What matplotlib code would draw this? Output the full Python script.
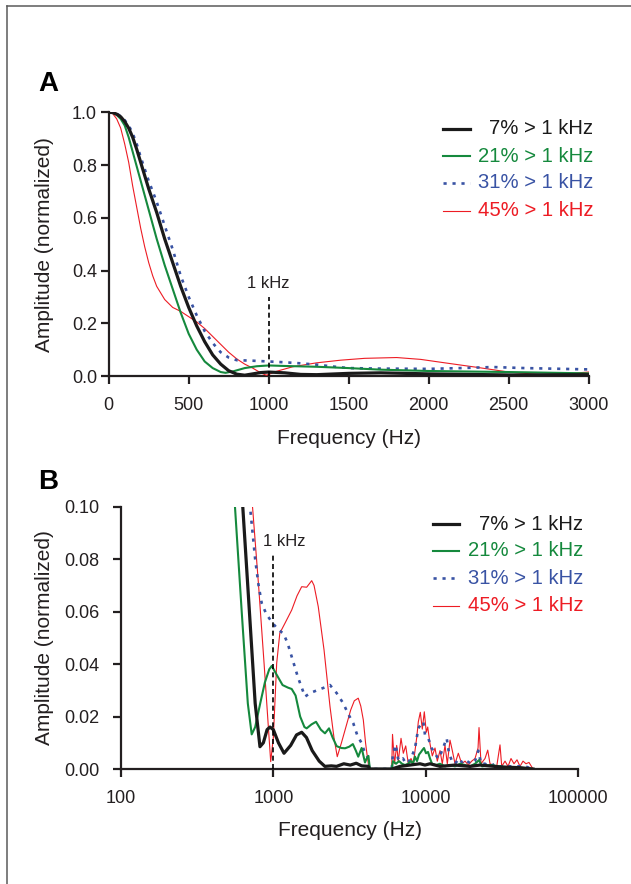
import matplotlib
matplotlib.use("Agg")
import matplotlib.pyplot as plt
from matplotlib.lines import Line2D

plt.rcParams['font.family'] = ['Liberation Sans', 'DejaVu Sans']

# ---- Panel A: linear frequency axis ----
a_blk_f = [0, 25, 50, 75, 100, 125, 150, 175, 200, 250, 300, 350, 400, 450, 500, 550, 600, 650, 700,
           750, 800, 850, 900, 950, 1000, 1100, 1200, 1300, 1500, 1700, 2000, 2500, 3000]
a_blk_y = [1.0, 0.999, 0.993, 0.983, 0.965, 0.94, 0.905, 0.86, 0.81, 0.71, 0.62, 0.52, 0.43, 0.34, 0.26,
           0.19, 0.13, 0.08, 0.045, 0.02, 0.007, 0.003, 0.008, 0.013, 0.015, 0.012, 0.006, 0.005, 0.01,
           0.012, 0.008, 0.004, 0.005]

a_grn_f = [0, 25, 50, 75, 100, 125, 150, 175, 200, 250, 300, 350, 400, 450, 500, 550, 600, 650, 700,
           730, 780, 850, 925, 1000, 1100, 1300, 1500, 1700, 2000, 2500, 3000]
a_grn_y = [1.0, 0.998, 0.99, 0.975, 0.95, 0.905, 0.85, 0.795, 0.74, 0.63, 0.52, 0.42, 0.33, 0.24, 0.16,
           0.1, 0.055, 0.03, 0.015, 0.012, 0.018, 0.03, 0.037, 0.04, 0.038, 0.035, 0.03, 0.024, 0.019,
           0.015, 0.01]

a_blu_f = [0, 25, 50, 75, 100, 125, 150, 175, 200, 250, 300, 350, 400, 450, 500, 550, 600, 650, 700,
           750, 800, 900, 1000, 1100, 1200, 1300, 1400, 1500, 1700, 2000, 2200, 2400, 2600, 3000]
a_blu_y = [1.0, 0.999, 0.995, 0.985, 0.97, 0.95, 0.92, 0.88, 0.83, 0.74, 0.66, 0.57, 0.48, 0.38, 0.3,
           0.23, 0.17, 0.125, 0.09, 0.07, 0.06, 0.058, 0.055, 0.052, 0.048, 0.043, 0.036, 0.03, 0.028,
           0.027, 0.03, 0.034, 0.03, 0.025]

a_red_f = [0, 25, 50, 75, 100, 125, 150, 175, 200, 225, 250, 275, 300, 350, 400, 450, 500, 550, 600,
           650, 700, 750, 800, 850, 900, 950, 985, 1000, 1050, 1150, 1300, 1450, 1600, 1800, 1950, 2100,
           2300, 2500, 2700, 2850, 3000]
a_red_y = [1.0, 0.995, 0.975, 0.94, 0.88, 0.81, 0.72, 0.64, 0.56, 0.49, 0.43, 0.38, 0.34, 0.29, 0.26,
           0.245, 0.225, 0.205, 0.18, 0.15, 0.12, 0.09, 0.065, 0.045, 0.03, 0.012, 0.003, 0.006, 0.018,
           0.035, 0.05, 0.06, 0.067, 0.07, 0.063, 0.05, 0.033, 0.015, 0.005, 0.008, 0.015]

# ---- Panel B: log frequency axis (values above 0.1 are clipped) ----
b_blk_f = [475, 630, 700, 760, 817, 860, 910, 951, 1000, 1080, 1175, 1300, 1420, 1535, 1650, 1800,
           2000, 2180, 2400, 2600, 2900, 3200, 3500, 3800, 4200, 4300, 5985,
           6785, 7891, 9180, 9899, 10678, 12420, 15583, 19540, 22730, 30760, 41620, 50660]
b_blk_y = [0.2, 0.1, 0.058, 0.025, 0.0085, 0.01, 0.015, 0.016, 0.015, 0.01, 0.006, 0.009, 0.013, 0.014,
           0.012, 0.007, 0.003, 0.001, 0.0012, 0.001, 0.002, 0.0015, 0.0022, 0.0012, 0.001, 0.0, 0.0,
           0.001, 0.0015, 0.002, 0.0015, 0.002, 0.001, 0.0015, 0.001, 0.0015, 0.0008, 0.0005, 0.0]

b_grn_f = [420, 560, 620, 680, 721, 760, 820, 880, 940, 976, 1050, 1150, 1250, 1320, 1400, 1500, 1600,
           1655, 1780, 1906, 2050, 2183, 2320, 2450, 2605, 2800, 2958, 3150, 3327, 3480, 3609, 3800,
           3996, 4100, 4210, 4300, 5985,
           6103, 6388, 6683, 6994, 7317, 7656, 8012, 8258, 8512, 8774, 9043, 9320, 9504, 9752, 10050,
           10360, 10678, 11010, 11690, 12420, 13397, 14448, 15583, 16810, 18130, 19540, 21090, 22400,
           23440, 26450, 30760, 35790, 41620, 50660]
b_grn_y = [0.2, 0.1, 0.06, 0.025, 0.0132, 0.016, 0.025, 0.033, 0.038, 0.0393, 0.036, 0.032, 0.031,
           0.0305, 0.028, 0.02, 0.016, 0.0155, 0.017, 0.018, 0.015, 0.0136, 0.0155, 0.012, 0.0087, 0.008,
           0.0079, 0.0085, 0.0095, 0.007, 0.0047, 0.008, 0.0025, 0.004, 0.005, 0.0, 0.0,
           0.003, 0.002, 0.003, 0.002, 0.0015, 0.002, 0.003, 0.002, 0.0047, 0.003, 0.0055, 0.0065, 0.0072,
           0.008, 0.006, 0.0065, 0.004, 0.002, 0.0015, 0.002, 0.001, 0.0015, 0.001, 0.002, 0.0015, 0.001,
           0.002, 0.0034, 0.001, 0.0015, 0.001, 0.0005, 0.0005, 0.0]

b_blu_f = [440, 703, 760, 800, 839, 900, 991, 1080, 1164, 1240, 1320, 1450, 1614, 1750, 1936, 2150,
           2355, 2600, 2880, 3100, 3350, 3550, 3800, 4000, 4140, 4250, 4300, 5985,
           6103, 6357, 6583, 6785, 7100, 7428, 7774, 8135, 8512, 8948, 9419, 9650, 9899, 10406, 10955,
           11516, 12050, 12610, 13194, 13743, 14230, 14890, 15583, 16560, 17590, 18680, 19840, 21090,
           22170, 23090, 24520, 26450, 28530, 30760, 33190, 38600, 44890, 50660]
b_blu_y = [0.2, 0.1, 0.08, 0.07, 0.0632, 0.059, 0.0556, 0.053, 0.0517, 0.048, 0.0428, 0.035, 0.0276,
           0.029, 0.03, 0.031, 0.032, 0.029, 0.025, 0.021, 0.0174, 0.013, 0.0098, 0.006, 0.0047, 0.001,
           0.0, 0.0,
           0.006, 0.0092, 0.004, 0.003, 0.004, 0.002, 0.003, 0.005, 0.008, 0.0155, 0.0175, 0.018, 0.013,
           0.0117, 0.0079, 0.006, 0.004, 0.006, 0.009, 0.0117, 0.006, 0.003, 0.002, 0.004, 0.002, 0.003,
           0.002, 0.003, 0.007, 0.002, 0.002, 0.001, 0.002, 0.001, 0.001, 0.001, 0.001, 0.0]

b_red_f = [560, 730, 800, 870, 930, 961, 1000, 1052, 1103, 1193, 1320, 1430, 1535, 1655, 1786, 1850,
           1972, 2152, 2355, 2500, 2628, 2800, 2958, 3220, 3400, 3609, 3750, 3897, 4030, 4140, 4250,
           5985,
           6058, 6244, 6454, 6612, 6890, 7134, 7396, 7691, 8012, 8296, 8735, 8948, 9222, 9504, 9797,
           10097, 10313, 10678, 11056, 11516, 11924, 12420, 12860, 13397, 13871, 14448, 14960, 15583,
           16380, 17240, 18130, 19060, 20060, 21090, 22070, 22400, 23090, 24520, 25550, 26450, 27800,
           29270, 30760, 31570, 33190, 34730, 36330, 38010, 39780, 41620, 43550, 45570, 47680, 50660]
b_red_y = [0.2, 0.1, 0.07, 0.04, 0.015, 0.0028, 0.012, 0.0403, 0.0518, 0.0556, 0.0606, 0.066, 0.0695,
           0.0693, 0.0718, 0.07, 0.0619, 0.0454, 0.0238, 0.012, 0.0047, 0.01, 0.0149, 0.0225, 0.026,
           0.027, 0.024, 0.0187, 0.01, 0.0047, 0.0, 0.0,
           0.0132, 0.002, 0.009, 0.003, 0.0117, 0.006, 0.0088, 0.002, 0.004, 0.002, 0.012, 0.018, 0.0216,
           0.0152, 0.0218, 0.014, 0.016, 0.0096, 0.005, 0.008, 0.003, 0.007, 0.002, 0.009, 0.002, 0.011,
           0.007, 0.002, 0.006, 0.002, 0.003, 0.0015, 0.003, 0.004, 0.008, 0.0158, 0.002, 0.004, 0.0072,
           0.002, 0.0015, 0.001, 0.0092, 0.001, 0.003, 0.001, 0.004, 0.002, 0.0035, 0.001, 0.003, 0.002,
           0.0025, 0.0]

labels = ["7% > 1 kHz", "21% > 1 kHz", "31% > 1 kHz", "45% > 1 kHz"]
colors = ["#1a1a1a", "#15893d", "#3953a4", "#ed1c24"]
widths = [2.3, 1.5, 1.9, 0.8]
styles = ["-", "-", (0, (1.2, 2.2)), "-"]

a_series = [(a_blk_f, a_blk_y), (a_grn_f, a_grn_y), (a_blu_f, a_blu_y), (a_red_f, a_red_y)]
b_series = [(b_blk_f, b_blk_y), (b_grn_f, b_grn_y), (b_blu_f, b_blu_y), (b_red_f, b_red_y)]

W, H = 631, 884
fig = plt.figure(figsize=(W / 100, H / 100), dpi=100)
axA = fig.add_axes([108.7 / W, 1 - 376 / H, 480 / W, 263.7 / H])
axB = fig.add_axes([121 / W, 1 - 769 / H, 457 / W, 262.3 / H])

spine_col = "#231f20"


def style_axes(ax, ypad):
    for s in ["top", "right"]:
        ax.spines[s].set_visible(False)
    for s in ["left", "bottom"]:
        ax.spines[s].set_linewidth(1.6)
        ax.spines[s].set_color(spine_col)
    ax.tick_params(which="major", direction="out", length=5.5, width=1.6, color=spine_col,
                   labelsize=13, labelcolor=spine_col)
    ax.tick_params(axis="x", pad=9.5)
    ax.tick_params(axis="y", pad=ypad)
    ax.tick_params(which="minor", length=0)


def draw_key(ax, x0, x1, xt, ys):
    # legend drawn by hand so the labels can be right aligned
    for i in range(4):
        ax.plot([x0, x1], [ys[i], ys[i]], transform=ax.transAxes, color=colors[i], lw=widths[i],
                linestyle=styles[i], clip_on=False)
        ax.text(xt, ys[i], labels[i], transform=ax.transAxes, ha="right", va="center",
                fontsize=14.6, color=colors[i])


# panel A
for i in [3, 2, 1, 0]:
    f, y = a_series[i]
    axA.plot(f, y, color=colors[i], lw=widths[i], linestyle=styles[i], zorder=3)
axA.set_xlim(0, 3000)
axA.set_ylim(0, 1.0)
axA.set_xticks([0, 500, 1000, 1500, 2000, 2500, 3000])
axA.set_yticks([0.0, 0.2, 0.4, 0.6, 0.8, 1.0])
axA.set_yticklabels(["0.0", "0.2", "0.4", "0.6", "0.8", "1.0"])
style_axes(axA, 3)
axA.plot([1000, 1000], [0, 0.30], color="black", lw=1.2, linestyle=(0, (3, 2)), zorder=4)
axA.text(1000, 0.352, "1 kHz", ha="center", va="center", fontsize=12, color=spine_col)
axA.set_xlabel("Frequency (Hz)", fontsize=15, color=spine_col)
axA.set_ylabel("Amplitude (normalized)", fontsize=15, color=spine_col)
axA.xaxis.set_label_coords(0.5, -0.2)
axA.yaxis.set_label_coords(-0.114, 0.5)
draw_key(axA, 0.696, 0.753, 1.009, [0.937, 0.834, 0.732, 0.626])

# panel B
for i in [3, 2, 1, 0]:
    f, y = b_series[i]
    axB.plot(f, y, color=colors[i], lw=widths[i], linestyle=styles[i], zorder=3)
axB.set_xscale("log")
axB.set_xlim(100, 100000)
axB.set_ylim(0, 0.1)
axB.set_xticks([100, 1000, 10000, 100000])
axB.set_xticklabels(["100", "1000", "10000", "100000"])
axB.set_yticks([0.0, 0.02, 0.04, 0.06, 0.08, 0.10])
axB.set_yticklabels(["0.00", "0.02", "0.04", "0.06", "0.08", "0.10"])
style_axes(axB, 10)
axB.plot([1000, 1000], [0, 0.0823], color="black", lw=1.2, linestyle=(0, (3, 2)), zorder=4)
axB.text(1175, 0.0867, "1 kHz", ha="center", va="center", fontsize=12, color=spine_col)
axB.set_xlabel("Frequency (Hz)", fontsize=15, color=spine_col)
axB.set_ylabel("Amplitude (normalized)", fontsize=15, color=spine_col)
axB.xaxis.set_label_coords(0.5, -0.2)
axB.yaxis.set_label_coords(-0.147, 0.5)
draw_key(axB, 0.682, 0.740, 1.0116, [0.934, 0.832, 0.727, 0.622])

# panel letters and outer frame
fig.text(48 / W, 1 - 84 / H, "A", fontsize=20, fontweight="bold", ha="center", va="center")
fig.text(48 / W, 1 - 482 / H, "B", fontsize=20, fontweight="bold", ha="center", va="center")
fig.add_artist(Line2D([7 / W, 7 / W], [0, 1 - 6 / H], transform=fig.transFigure, color="#5a5a5a", lw=1.1))
fig.add_artist(Line2D([7 / W, 1], [1 - 6 / H, 1 - 6 / H], transform=fig.transFigure, color="#5a5a5a", lw=1.1))

fig.savefig("out.png", dpi=100)
